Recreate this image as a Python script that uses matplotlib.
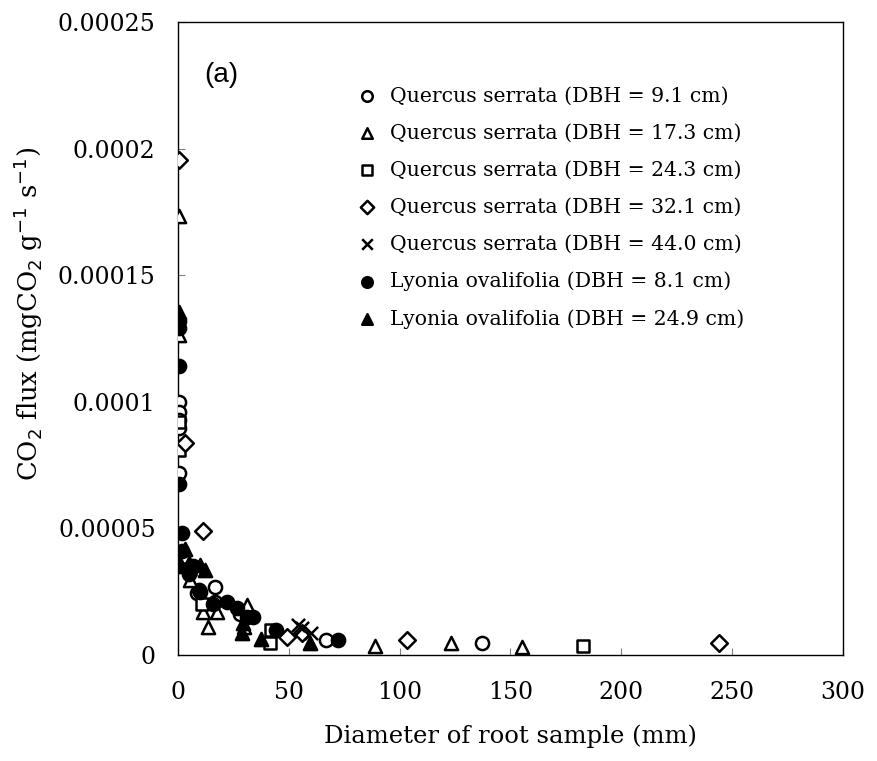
import matplotlib
matplotlib.use("Agg")
import matplotlib.pyplot as plt

# root respiration vs. root diameter, one series per sampled tree
q91_x = [0.5, 0.5, 0.5, 0.5, 0.5, 8.4, 16.5, 9.5, 16.5, 28, 67, 137]
q91_y = [1.0e-4, 9.6e-5, 9.3e-5, 8.95e-5, 7.2e-5, 2.45e-5, 2.7e-5, 2.55e-5, 2.1e-5, 1.6e-5, 5.9e-6, 4.6e-6]

q173_x = [0.5, 0.5, 1.0, 5.4, 11.4, 13.7, 17.4, 31, 30, 89, 123, 155]
q173_y = [1.735e-4, 1.265e-4, 3.6e-5, 2.95e-5, 1.7e-5, 1.1e-5, 1.7e-5, 1.97e-5, 1.1e-5, 3.5e-6, 4.8e-6, 3.3e-6]

q243_x = [0.3, 0.3, 5.5, 10.7, 42, 41.5, 182.7]
q243_y = [9.2e-5, 8.1e-5, 3.4e-5, 2.03e-5, 9.8e-6, 4.7e-6, 3.7e-6]

q321_x = [0.5, 3.1, 11.1, 49, 56, 103.5, 244]
q321_y = [1.956e-4, 8.38e-5, 4.9e-5, 7.2e-6, 8.5e-6, 5.9e-6, 4.8e-6]

q440_x = [54, 56, 60]
q440_y = [1.2e-5, 1.05e-5, 8.5e-6]

l81_x = [0.5, 0.5, 0.5, 0.5, 1.8, 1.8, 5, 7, 10, 16, 22, 26.5, 31, 34, 44, 72]
l81_y = [1.32e-4, 1.29e-4, 1.14e-4, 6.77e-5, 4.8e-5, 4.1e-5, 3.2e-5, 3.5e-5, 2.5e-5, 2.0e-5,
         2.1e-5, 1.85e-5, 1.5e-5, 1.5e-5, 9.8e-6, 5.9e-6]

l249_x = [0.5, 1.5, 3.0, 4.8, 10, 12.3, 29.4, 28.7, 37.5, 59.5]
l249_y = [1.356e-4, 3.5e-5, 4.2e-5, 3.65e-5, 3.55e-5, 3.35e-5, 1.25e-5, 8.5e-6, 6.5e-6, 4.6e-6]

labels = ["Quercus serrata (DBH = 9.1 cm)",
          "Quercus serrata (DBH = 17.3 cm)",
          "Quercus serrata (DBH = 24.3 cm)",
          "Quercus serrata (DBH = 32.1 cm)",
          "Quercus serrata (DBH = 44.0 cm)",
          "Lyonia ovalifolia (DBH = 8.1 cm)",
          "Lyonia ovalifolia (DBH = 24.9 cm)"]

x_ticks = [0, 50, 100, 150, 200, 250, 300]
y_ticks = [0, 0.00005, 0.0001, 0.00015, 0.0002, 0.00025]
y_tick_labels = ["0", "0.00005", "0.0001", "0.00015", "0.0002", "0.00025"]

plt.rcParams["font.family"] = ["DejaVu Serif"]

fig = plt.figure(figsize=(8.78, 7.61), dpi=100)
ax = fig.add_axes([0.2027, 0.1393, 0.7574, 0.8318])

series = [
    (q91_x, q91_y, "o", "white", 1.0),
    (q173_x, q173_y, "^", "white", 1.0),
    (q243_x, q243_y, "s", "white", 0.85),
    (q321_x, q321_y, "D", "white", 0.8),
    (q440_x, q440_y, "x", "black", 1.0),
    (l81_x, l81_y, "o", "black", 1.0),
    (l249_x, l249_y, "^", "black", 1.0),
]

for (xs, ys, m, fc, sc), lab in zip(series, labels):
    if m == "x":
        ax.scatter(xs, ys, marker=m, s=90 * sc, c="black", linewidths=1.8, label=lab, zorder=3)
    else:
        ax.scatter(xs, ys, marker=m, s=90 * sc, facecolors=fc, edgecolors="black",
                   linewidths=1.8, label=lab, zorder=3)

ax.set_xlim(0, 300)
ax.set_ylim(0, 0.00025)
ax.set_xticks(x_ticks)
ax.set_yticks(y_ticks)
ax.set_yticklabels(y_tick_labels)
ax.tick_params(direction="in", length=5, color="#808080", labelsize=17)
ax.tick_params(axis="x", pad=19)
ax.tick_params(axis="y", pad=16)
for sp in ax.spines.values():
    sp.set_linewidth(1.0)

ax.set_xlabel("Diameter of root sample (mm)", fontsize=17.5)
ax.xaxis.set_label_coords(0.5, -0.11)
ax.set_ylabel("CO$_2$ flux (mgCO$_2$ g$^{-1}$ s$^{-1}$)", fontsize=18.5)
ax.yaxis.set_label_coords(-0.2, 0.539)

ax.text(0.04, 0.916, "(a)", transform=ax.transAxes, fontsize=20,
        family="Liberation Sans", va="center", ha="left")

ax.legend(loc="upper left", bbox_to_anchor=(0.254, 0.914), frameon=False,
          fontsize=14.7, handletextpad=0.6, labelspacing=0.88, markerscale=0.8,
          borderpad=0, handlelength=1.0)

fig.savefig("out.png", dpi=100)
